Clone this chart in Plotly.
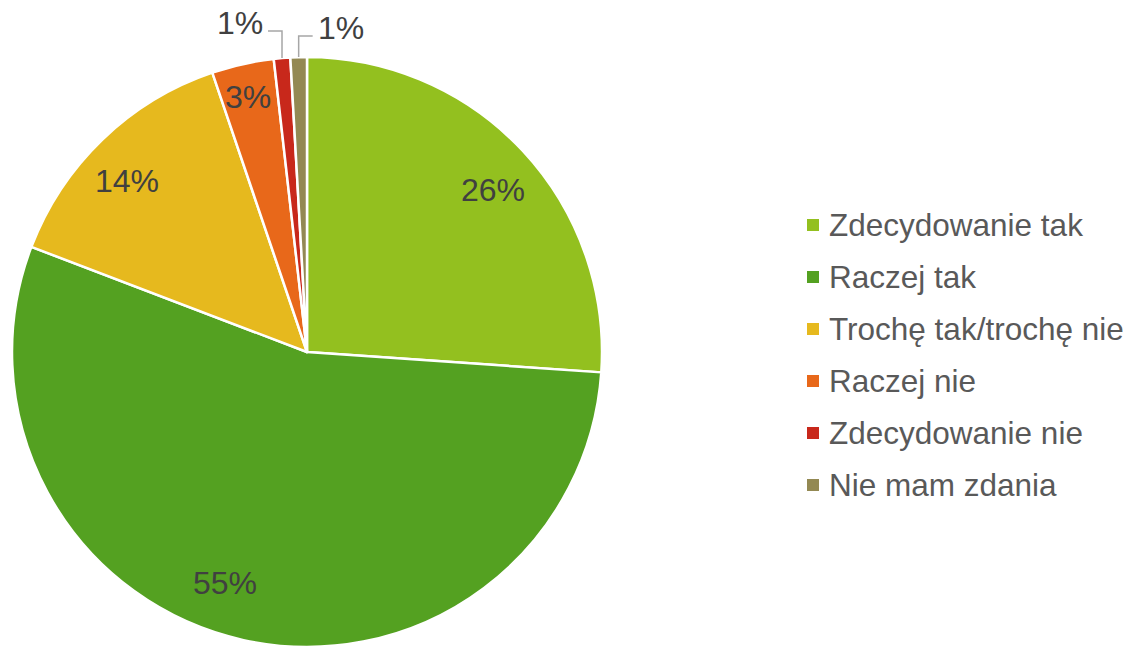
import plotly.graph_objects as go
import math

categories = ["Zdecydowanie tak", "Raczej tak", "Trochę tak/trochę nie",
              "Raczej nie", "Zdecydowanie nie", "Nie mam zdania"]
values = [26.1, 54.7, 14.0, 3.4, 0.9, 0.9]
colors = ["#93C01F", "#54A121", "#E6B91E", "#E8681A", "#C8281B", "#938953"]

W, H = 1132, 648
cx, cy, R = 307, 352, 295
FONT = "Liberation Sans, Arial"


def px2paper(x, y):
    return x / W, 1 - y / H


dx0, dy0 = px2paper(cx - R, cy + R)
dx1, dy1 = px2paper(cx + R, cy - R)

total = sum(values)

fig = go.Figure()
fig.add_trace(go.Pie(
    labels=categories, values=values, sort=False, direction="clockwise", rotation=0,
    marker=dict(colors=colors, line=dict(color="white", width=2.5)),
    textinfo="none",
    domain=dict(x=[dx0, dx1], y=[dy0, dy1]), showlegend=False, hoverinfo="label+percent",
))

shapes = []
annotations = []

# label styling (pixel nudges relative to 0.83R on the slice mid-angle)
inside_nudge = {0: (7, 5), 1: (-29, -8), 2: (-10, 5), 3: (-6, -16)}
small_style = [(-1, 26), (1, 21)]  # side, elbow height above pie top

cum = 0
small_i = 0
for i, v in enumerate(values):
    mid = (cum + v / 2) / total * 2 * math.pi
    cum += v
    pct = f"{round(v / total * 100)}%"
    if v / total > 0.02:
        nx, ny = inside_nudge.get(i, (0, 0))
        lx = cx + 0.83 * R * math.sin(mid) + nx
        ly = cy - 0.83 * R * math.cos(mid) + ny
        ax, ay = px2paper(lx, ly)
        annotations.append(dict(x=ax, y=ay, xref="paper", yref="paper", text=pct,
                                showarrow=False, xanchor="center", yanchor="middle",
                                font=dict(family=FONT, size=32, color="#404040")))
        continue
    side, up = small_style[small_i]
    small_i += 1
    ex = cx + R * math.sin(mid)
    ey = cy - R * math.cos(mid)
    top_y = cy - R - up
    hx = ex + side * 14
    x0, y0 = px2paper(ex, ey)
    x1, y1 = px2paper(ex, top_y)
    x2, y2 = px2paper(hx, top_y)
    shapes.append(dict(type="path", xref="paper", yref="paper",
                       path=f"M {x0} {y0} L {x1} {y1} L {x2} {y2}",
                       line=dict(color="#A6A6A6", width=1.5)))
    tx, ty = px2paper(hx + side * 4, top_y - 8)
    annotations.append(dict(x=tx, y=ty, xref="paper", yref="paper",
                            text=pct, showarrow=False, borderpad=0,
                            xanchor="right" if side < 0 else "left", yanchor="middle",
                            font=dict(family=FONT, size=32, color="#404040")))

# legend
leg_x, leg_y0, leg_dy = 807, 225, 52
for i, (c, col) in enumerate(zip(categories, colors)):
    y = leg_y0 + i * leg_dy
    sx0, sy0 = px2paper(leg_x, y - 6)
    sx1, sy1 = px2paper(leg_x + 12, y + 6)
    shapes.append(dict(type="rect", xref="paper", yref="paper",
                       x0=sx0, x1=sx1, y0=sy1, y1=sy0,
                       fillcolor=col, line=dict(width=0)))
    tx, ty = px2paper(leg_x + 20, y)
    annotations.append(dict(x=tx, y=ty, xref="paper", yref="paper", text=c,
                            showarrow=False, xanchor="left", yanchor="middle",
                            font=dict(family=FONT, size=31.5, color="#595959")))

fig.update_layout(
    width=W, height=H, margin=dict(l=0, r=0, t=0, b=0),
    paper_bgcolor="white", plot_bgcolor="white",
    shapes=shapes, annotations=annotations,
)
fig.write_html("out.html", config={"displayModeBar": False},
               post_script="document.body.style.margin='0';document.body.style.overflow='hidden';")
